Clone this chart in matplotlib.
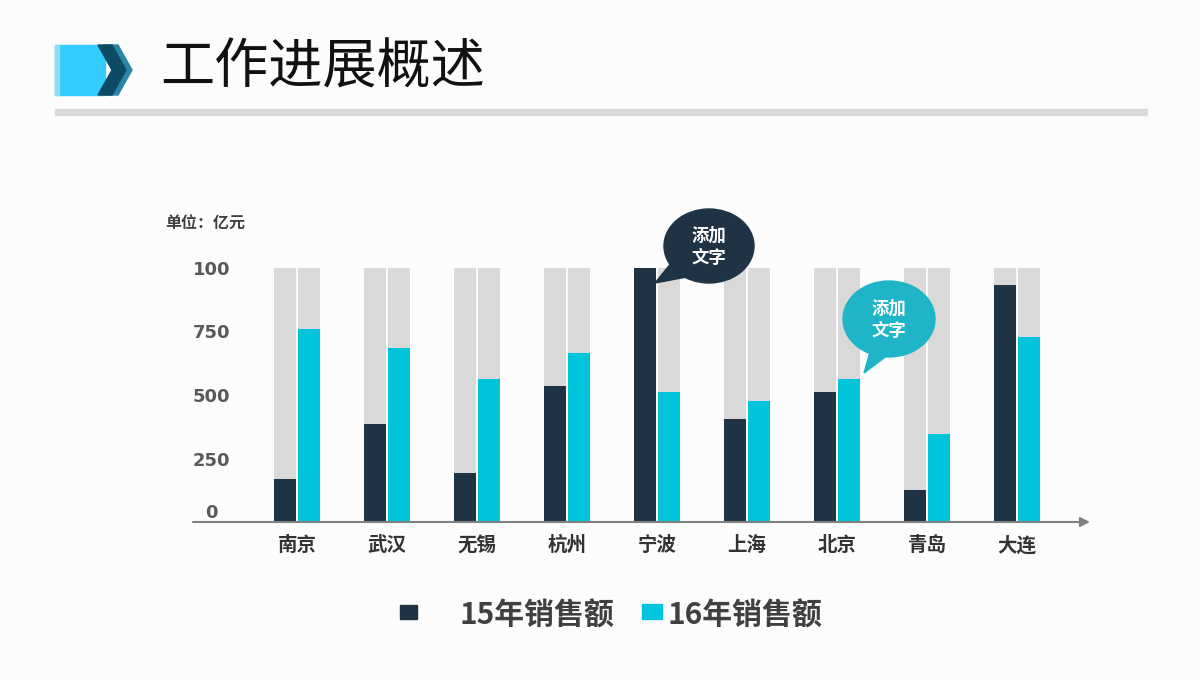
import matplotlib
matplotlib.use("Agg")
import matplotlib.pyplot as plt
import numpy as np
from matplotlib.patches import Polygon, Ellipse, Rectangle

plt.rcParams['font.family'] = ['Noto Sans CJK SC', 'DejaVu Sans']

cities = ['南京', '武汉', '无锡', '杭州', '宁波', '上海', '北京', '青岛', '大连']
sales_15 = [169, 386, 193, 535, 1000, 406, 512, 126, 933]
sales_16 = [760, 685, 563, 665, 512, 476, 563, 346, 728]
full_scale = 1000
ytick_vals = [0, 250, 500, 750, 1000]
ytick_labels = ['0', '250', '500', '750', '100']
legend_labels = ['15年销售额', '16年销售额']

DARK = '#1f3344'
CYAN = '#00c4dc'
BUBBLE_CYAN = '#1fb5c9'
GREY = '#d9d9d9'
BG = '#fcfcfc'

fig = plt.figure(figsize=(12, 6.8), dpi=100, facecolor=BG)

# decoration layer in pixel coordinates
deco = fig.add_axes([0, 0, 1, 1])
deco.set_xlim(0, 1200)
deco.set_ylim(680, 0)
deco.axis('off')

# header icon
deco.add_patch(Polygon([[104, 45], [118, 45], [132, 70], [118, 95], [104, 95], [118, 70]],
                       closed=True, color='#2a86a8'))
deco.add_patch(Rectangle((55, 45), 50, 50, color='#33ccff'))
deco.add_patch(Rectangle((55, 45), 4, 50, color='#8fdcf5'))
deco.add_patch(Polygon([[98, 45], [112, 45], [126, 70], [112, 95], [98, 95], [112, 70]],
                       closed=True, color='#0d4a63'))
deco.text(160, 68, '工作进展概述', fontsize=39, color='#111111', va='center', ha='left')
deco.add_patch(Rectangle((55, 109), 1092, 6, color='#d9d9d9'))

deco.text(165, 224, '单位：亿元', fontsize=11.5, fontweight='bold', color='#404040',
          va='center', ha='left')

# chart axes
ax = fig.add_axes([193 / 1200, 1 - 522 / 680, (1090 - 193) / 1200, (522 - 268) / 680])
ax.set_facecolor('none')
x = np.arange(len(cities))
w = 0.245
off = 0.135
ax.bar(x - off, [full_scale] * len(cities), w, color=GREY, zorder=1)
ax.bar(x + off, [full_scale] * len(cities), w, color=GREY, zorder=1)
ax.bar(x - off, sales_15, w, color=DARK, zorder=2)
ax.bar(x + off, sales_16, w, color=CYAN, zorder=2)
ax.set_xlim(-1.156, 8.81)
ax.set_ylim(0, full_scale)
for s in ax.spines.values():
    s.set_visible(False)
ax.annotate('', xy=(1.0, 0), xytext=(0, 0), xycoords='axes fraction',
            arrowprops=dict(arrowstyle='-|>', color='#808080', lw=1.5,
                            mutation_scale=14, shrinkA=0, shrinkB=0))
ax.set_xticks(x)
ax.set_xticklabels(cities, fontsize=14, fontweight='bold', color='#333333')
ax.tick_params(axis='x', length=0, pad=10)
ax.set_yticks(ytick_vals)
ax.set_yticklabels(ytick_labels, family=['Liberation Sans Narrow', 'DejaVu Sans'],
                   fontsize=13, fontweight='bold', color='#595959')
ax.tick_params(axis='y', length=0, pad=-13.5)
for lab, v in zip(ax.get_yticklabels(), ytick_vals):
    lab.set_horizontalalignment('center')
    lab.set_verticalalignment('center_baseline' if v else 'bottom')

# overlay for speech bubbles (above the bars)
top = fig.add_axes([0, 0, 1, 1])
top.set_xlim(0, 1200)
top.set_ylim(680, 0)
top.axis('off')
top.add_patch(Polygon([[672, 262], [655, 283], [692, 276]], closed=True, color=DARK))
top.add_patch(Ellipse((709, 246), 90, 74, color=DARK))
top.text(709, 247, '添加\n文字', fontsize=12.5, fontweight='bold', color='white',
         ha='center', va='center', linespacing=1.3)
top.add_patch(Polygon([[872, 345], [864, 373], [892, 352]], closed=True, color=BUBBLE_CYAN))
top.add_patch(Ellipse((889, 319), 92, 76, color=BUBBLE_CYAN))
top.text(889, 320, '添加\n文字', fontsize=12.5, fontweight='bold', color='white',
         ha='center', va='center', linespacing=1.3)

# legend
top.add_patch(Rectangle((400, 605), 17, 14, color=DARK))
top.text(460, 616, legend_labels[0], fontsize=21.5, fontweight='bold', color='#404040',
         ha='left', va='center')
top.add_patch(Rectangle((642, 604), 20, 15, color=CYAN))
top.text(667, 616, legend_labels[1], fontsize=21.5, fontweight='bold', color='#404040',
         ha='left', va='center')

fig.savefig('out.png', dpi=100, facecolor=BG)
